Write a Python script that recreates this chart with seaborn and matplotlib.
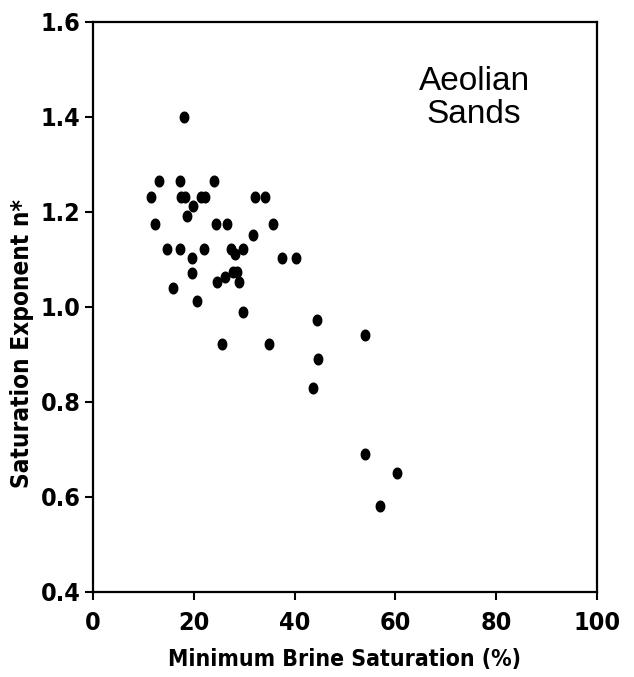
import numpy as np
import pandas as pd
import matplotlib
matplotlib.use("Agg")
import matplotlib.pyplot as plt
import seaborn as sns

# Data
min_brine_sat = [18.0, 13.0, 17.3, 24.0, 11.6, 17.5, 18.2, 21.4, 22.3, 32.1,
                 34.1, 19.9, 18.7, 12.3, 24.4, 26.6, 35.8, 31.7, 14.6, 17.3,
                 22.0, 27.4, 28.1, 29.8, 37.5, 40.3, 19.7, 19.7, 27.8, 28.5,
                 26.1, 24.6, 29.0, 15.9, 20.7, 29.8, 25.5, 34.9, 44.4, 53.9,
                 44.7, 43.6, 53.9, 60.3, 56.9]
sat_exponent = [1.40, 1.265, 1.265, 1.265, 1.232, 1.232, 1.232, 1.232, 1.232, 1.232,
                1.232, 1.213, 1.191, 1.174, 1.174, 1.174, 1.174, 1.152, 1.121, 1.121,
                1.121, 1.121, 1.112, 1.121, 1.102, 1.102, 1.102, 1.071, 1.074, 1.074,
                1.064, 1.053, 1.053, 1.039, 1.012, 0.990, 0.922, 0.923, 0.972, 0.940,
                0.890, 0.829, 0.691, 0.651, 0.580]

x_ticks = [0, 20, 40, 60, 80, 100]
y_ticks = [0.4, 0.6, 0.8, 1.0, 1.2, 1.4, 1.6]

df = pd.DataFrame({"x": min_brine_sat, "y": sat_exponent})

sns.set_theme(style="ticks")
plt.rcParams["font.family"] = ["DejaVu Sans"]
plt.rcParams["font.stretch"] = "condensed"

fig = plt.figure(figsize=(6.34, 6.77), dpi=100)
ax = fig.add_axes([0.1467, 0.1256, 0.7949, 0.842])

t = np.linspace(0, 2 * np.pi, 40)
ellipse = np.column_stack([0.82 * np.cos(t), np.sin(t)])

sns.scatterplot(data=df, x="x", y="y", ax=ax, marker=ellipse, s=75,
                color="black", edgecolor="black", linewidth=0)

ax.set_xlim(0, 100)
ax.set_ylim(0.4, 1.6)
ax.set_xticks(x_ticks)
ax.set_xticklabels([str(v) for v in x_ticks])
ax.set_yticks(y_ticks)
ax.set_yticklabels([f"{v:.1f}" for v in y_ticks])

for sp in ax.spines.values():
    sp.set_visible(True)
    sp.set_linewidth(1.6)
    sp.set_color("black")

ax.tick_params(axis="both", direction="out", length=6, width=1.5,
               labelsize=18, colors="black")
ax.tick_params(axis="x", pad=8)
ax.tick_params(axis="y", pad=3)
for lab in ax.get_xticklabels() + ax.get_yticklabels():
    lab.set_fontweight("bold")
    lab.set_fontstretch("condensed")

ax.set_xlabel("Minimum Brine Saturation (%)", fontsize=16.5, fontweight="bold",
              fontstretch="condensed", color="black")
ax.set_ylabel("Saturation Exponent n*", fontsize=17.5, fontweight="bold",
              fontstretch="condensed", color="black")
ax.xaxis.set_label_coords(0.5, -0.099)
ax.yaxis.set_label_coords(-0.118, 0.435)

ax.text(75.6, 1.44, "Aeolian\nSands", ha="center", va="center",
        fontsize=24, color="black", linespacing=1.05,
        family=["Liberation Sans", "DejaVu Sans"], fontstretch="normal")

fig.savefig("out.png", dpi=100, facecolor="white")
